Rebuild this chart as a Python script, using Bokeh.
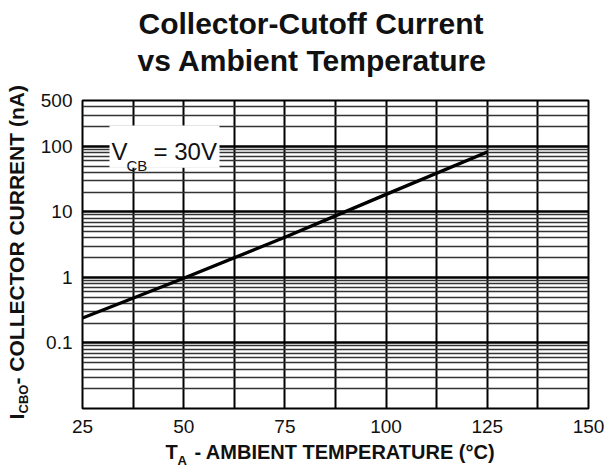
import math
from bokeh.plotting import figure
from bokeh.models import FixedTicker, Grid, Label, BoxAnnotation, ColumnDataSource, Title
from bokeh.embed import file_html
from bokeh.resources import INLINE

# ---- data ----
temperature_c = [25, 50, 75, 100, 125]
icbo_na = [0.24, 0.97, 4.1, 18.5, 82]
x_ticks = [25, 50, 75, 100, 125, 150]
y_ticks = [0.1, 1, 10, 100, 500]
y_tick_labels = ["0.1", "1", "10", "100", "500"]
title_lines = ["Collector-Cutoff Current", "vs Ambient Temperature"]
vcb_text = ["V", "CB", "= 30V"]
x_label = ["T", "A", "- AMBIENT TEMPERATURE (°C)"]
y_label = ["I", "CBO", "- COLLECTOR CURRENT (nA)"]

FONT = "Liberation Sans"
INK = "#111111"
NB = "\u00a0"
X0, X1 = 25, 150
Y0, Y1 = 0.01, 500

p = figure(width=608, height=468, x_range=(X0, X1), y_range=(Y0, Y1),
           y_axis_type="log", output_backend="svg", toolbar_location=None,
           min_border_left=0, min_border_right=20, min_border_top=0,
           min_border_bottom=0)
p.title = None

# frame outline
p.outline_line_color = "black"
p.outline_line_width = 2
p.outline_line_alpha = 1

# axes
for ax in (p.xaxis, p.yaxis):
    ax.major_tick_out = 0
    ax.major_tick_in = 0
    ax.minor_tick_out = 0
    ax.minor_tick_in = 0
    ax.axis_line_color = None
    ax.axis_label = None
    ax.major_label_text_font = FONT
    ax.major_label_text_color = INK
    ax.major_label_text_font_size = "19px"
p.xaxis.ticker = FixedTicker(ticks=x_ticks)
p.xaxis.major_label_standoff = 11
p.yaxis.ticker = FixedTicker(ticks=y_ticks)
p.yaxis.major_label_overrides = {t: s for t, s in zip(y_ticks, y_tick_labels)}
p.yaxis.major_label_standoff = 10

# grids
xgrid_ticks = [X0 + 12.5 * i for i in range(1, 10)]
p.xgrid.ticker = FixedTicker(ticks=xgrid_ticks)
p.xgrid.grid_line_color = "black"
p.xgrid.grid_line_width = 2
p.xgrid.grid_line_alpha = 1

decades = [10.0 ** k for k in range(-2, 3)]
p.ygrid.ticker = FixedTicker(ticks=decades)
p.ygrid.grid_line_color = "black"
p.ygrid.grid_line_width = 2.5
p.ygrid.grid_line_alpha = 1

minor = []
for d in decades:
    for m in range(2, 10):
        v = d * m
        if v < Y1:
            minor.append(v)
p.add_layout(Grid(dimension=1, ticker=FixedTicker(ticks=minor),
                  grid_line_color="#333333", grid_line_width=1.4))

# curve
src = ColumnDataSource(dict(t=temperature_c, i=icbo_na))
p.line("t", "i", source=src, line_color="black", line_width=3.4)

# pixel (reference image) -> data helpers for annotation placement
def X(px):
    return X0 + (px - 82) * (X1 - X0) / 506.0

def Y(py):
    return 10 ** (math.log10(Y0) + (408 - py) * math.log10(Y1 / Y0) / 307.0)

# V_CB box (inside the frame)
p.add_layout(BoxAnnotation(left=X(109), right=X(219), top=Y(126), bottom=Y(168),
                           fill_color="white", fill_alpha=1, line_color=None))
p.add_layout(Label(x=X(111), y=Y(152), text=vcb_text[0], text_font=FONT,
                   text_font_size="24px", text_baseline="alphabetic", text_color=INK))
p.add_layout(Label(x=X(126), y=Y(166), text=vcb_text[1], text_font=FONT,
                   text_font_size="15px", text_baseline="alphabetic", text_color=INK))
p.add_layout(Label(x=X(153), y=Y(152), text=vcb_text[2], text_font=FONT,
                   text_font_size="24px", text_baseline="alphabetic", text_color=INK))

def T(text, size, standoff, valign, offset=0, bold=True):
    return Title(text=text, text_font=FONT, text_font_size=size,
                 text_font_style="bold" if bold else "normal", text_color=INK,
                 align="left", offset=offset, standoff=standoff,
                 vertical_align=valign)

# ---- above: first added is nearest the frame ----
p.add_layout(T(" ", "1px", 19, "bottom"), "above")                 # spacer
p.add_layout(T(title_lines[1], "30px", 0, "top", offset=55), "above")
p.add_layout(T(title_lines[0], "30px", 8, "bottom", offset=56), "above")

# ---- below: axis first, then label rows ----
p.add_layout(T(x_label[0] + NB * 3 + x_label[2], "20px", 6, "bottom", offset=83), "below")
p.add_layout(T(x_label[1], "13px", -25, "top", offset=95), "below")
p.add_layout(T(" ", "1px", -0.5, "bottom"), "below")               # spacer

# ---- left: axis nearest the frame, then spacer, subscript, main text ----
p.add_layout(T(" ", "1px", 4.5, "bottom"), "left")                 # spacer
p.add_layout(T(y_label[1], "13px", -27, "top", offset=-5), "left")
p.add_layout(T(y_label[0] + NB * 5 + y_label[2], "21px", 4, "bottom", offset=-11), "left")

open("out.html", "w").write(file_html(p, INLINE))
